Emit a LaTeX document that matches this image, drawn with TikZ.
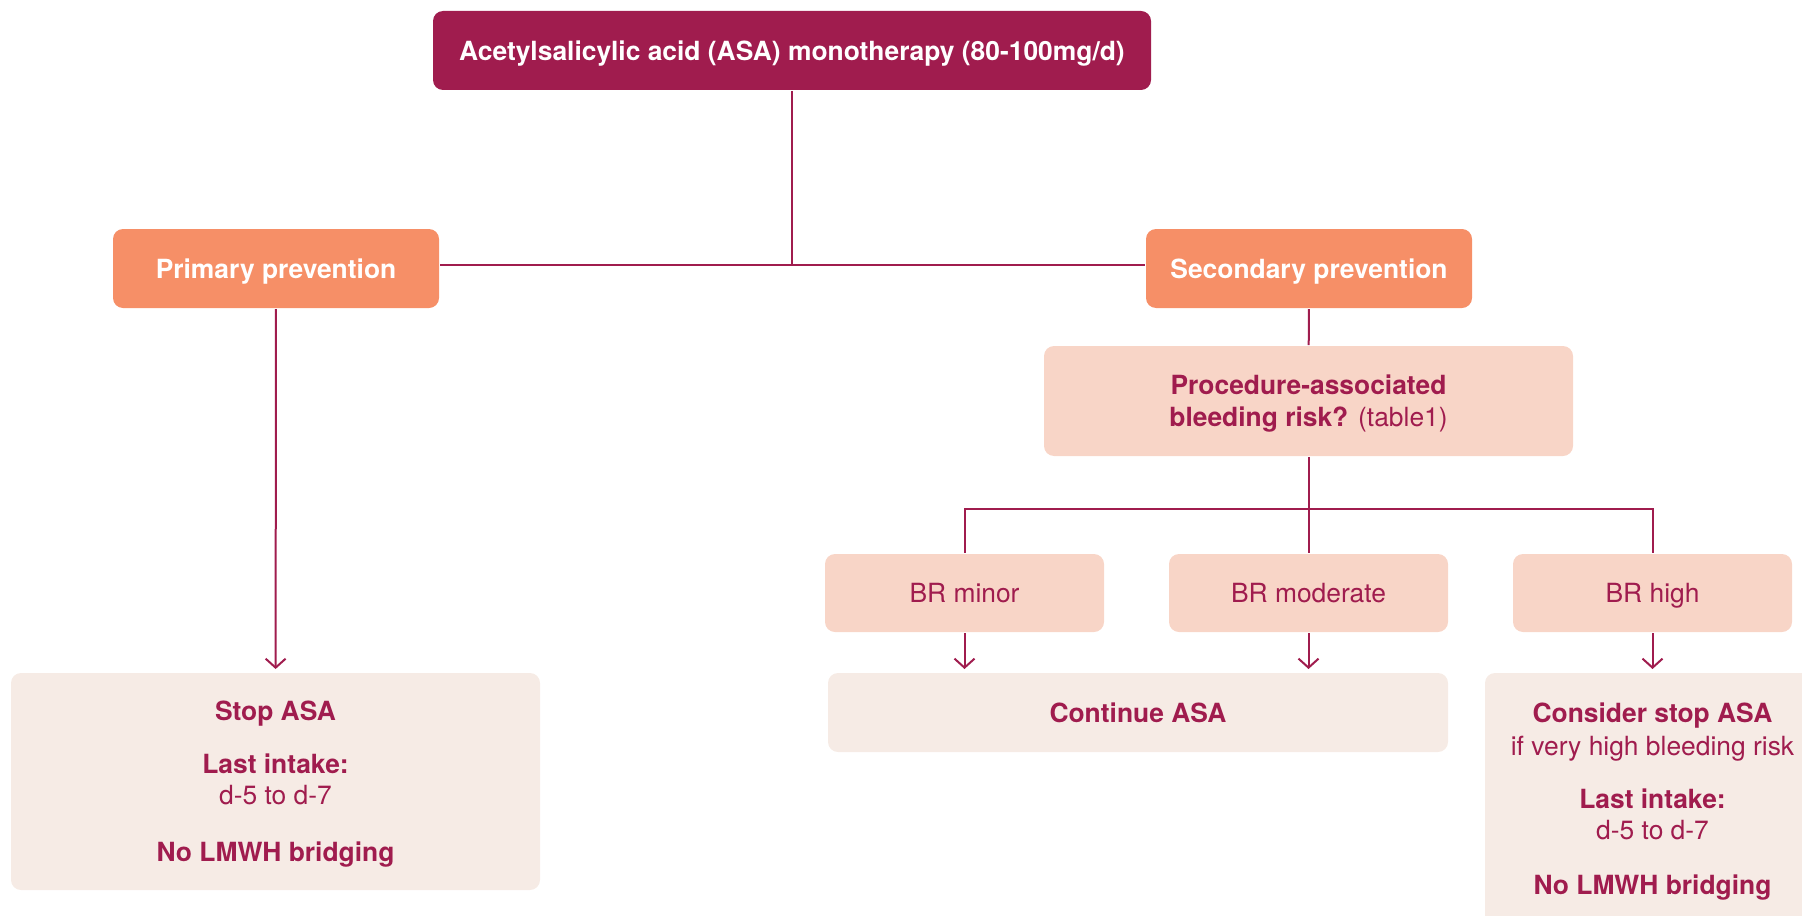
\documentclass[tikz,border=0pt]{standalone}
\usepackage{fontspec}
\setmainfont{TeX Gyre Heros}
\usetikzlibrary{arrows.meta}
\usetikzlibrary{positioning}
\definecolor{asared}{RGB}{160,28,78}
\definecolor{asaorange}{RGB}{246,143,103}
\definecolor{asapink}{RGB}{248,213,199}
\definecolor{asapale}{RGB}{246,235,229}
\newcommand\boxfont{\fontsize{13.2}{15.5}\selectfont}

\begin{document}
\begin{tikzpicture}[x=0.5pt,y=-0.5pt,line width=1pt,color=asared,
			>={Straight Barb[length=4.5pt,width=10pt]},font=\boxfont]
			\tikzstyle{every node}=[rounded corners=5pt,inner sep=0pt,align=center,text depth=0pt]
			\tikzstyle{topbox}=[fill=asared,text=white,font=\boxfont\bfseries,
				minimum width=359pt,minimum height=39.5pt]
			\tikzstyle{prevbox}=[fill=asaorange,text=white,font=\boxfont\bfseries,
				minimum width=163pt,minimum height=39.5pt]
			\tikzstyle{riskbox}=[fill=asapink,minimum width=139.5pt,minimum height=39pt]
			\tikzstyle{actbox}=[fill=asapale]
			\tikzstyle{flow}=[->,shorten >=1.5pt]

			\useasboundingbox (0,0) rectangle (1802,915);
			\clip (0,0) rectangle (1802,915);

			\node[topbox] (asa) at (792,50.5) {Acetylsalicylic acid (ASA) monotherapy (80-100mg/d)};
			\node[prevbox] (primary) at (276,268.5) {Primary prevention};
			\node[prevbox] (secondary) at (1309,268.5) {Secondary prevention};
			\node[riskbox, minimum width=264.5pt, minimum height=55pt] (procedure) at (1308.5,401)
				{\textbf{Procedure-associated}\\[0.5pt]\textbf{bleeding risk?} (table1)};
			\node[riskbox] (minor) at (964.5,593) {BR minor};
			\node[riskbox] (moderate) at (1308.5,593) {BR moderate};
			\node[riskbox] (high) at (1652.5,593) {BR high};

			\node[actbox, minimum width=264.5pt, minimum height=108.5pt] (stop) at (275.5,781.5)
				{\textbf{Stop ASA}\\[11pt]\textbf{Last intake:}\\d-5 to d-7\\[13pt]\textbf{No LMWH bridging}};
			\node[actbox, minimum width=310pt, minimum height=39.5pt] (continue) at (1138,712.5)
				{\textbf{Continue ASA}};
			\node[actbox, minimum width=167.5pt, minimum height=126pt] (consider) at (1652.5,799)
				{\textbf{Consider stop ASA}\\[1pt]if very high bleeding risk\\[11pt]\textbf{Last intake:}\\d-5 to d-7\\[12pt]\textbf{No LMWH bridging}};

			\coordinate (join) at (792,265);
			\coordinate (split) at (1308.5,509);

			\draw (asa) -- (join);
			\draw (primary.east |- join) -- (secondary.west |- join);
			\draw (secondary) -- (procedure);
			\draw (procedure) -- (split);
			\draw (minor.north) |- (split) -| (high.north);
			\draw (split) -- (moderate);

			\draw[flow] (primary) -- (stop);
			\draw[flow] (minor) -- (minor |- continue.north);
			\draw[flow] (moderate) -- (moderate |- continue.north);
			\draw[flow] (high) -- (consider);
\end{tikzpicture}
\end{document}
